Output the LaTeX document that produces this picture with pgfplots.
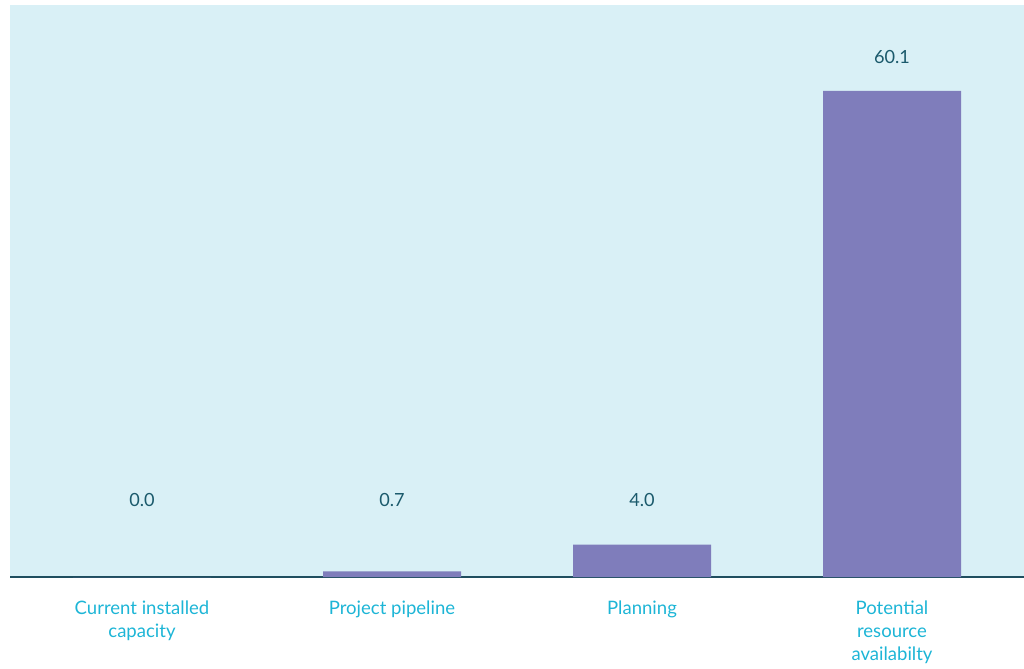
\documentclass[border=0pt]{standalone}
\usepackage{pgfplots}
\pgfplotsset{compat=1.18}
\usepackage{fontspec}
\setmainfont{Lato}
\definecolor{bgc}{HTML}{D9F0F6}
\definecolor{barc}{HTML}{7F7DBB}
\definecolor{axc}{HTML}{1F4E5F}
\definecolor{valc}{HTML}{1B5A6C}
\definecolor{labc}{HTML}{1DB5D6}
\begin{document}
\begin{tikzpicture}[x=0.75pt,y=0.75pt]
\useasboundingbox (-10,-91) rectangle (1014,577);
\begin{axis}[
  at={(0,0)}, anchor=south west,
  scale only axis, width=760.5pt, height=429pt,
  xmin=-0.528, xmax=3.528, ymin=0, ymax=70.73,
  axis x line=bottom, axis y line=none,
  axis line style={-, draw=axc, line width=0.9pt},
  axis background/.style={fill=bgc},
  xtick={0,1,2,3}, major tick length=0,
  xticklabels={{Current installed\\capacity},{Project pipeline},{Planning},{Potential\\resource\\availabilty}},
  xticklabel style={align=center, font=\fontsize{13.9pt}{17.25pt}\selectfont, text=labc, anchor=north, yshift=-14pt},
  ytick=\empty,
  clip=false,
]
\addplot[ybar, bar width=0.552, fill=barc, draw=none] coordinates {(0,0.0) (1,0.7) (2,4.0) (3,60.1)};
\addplot[draw=none, mark=none, nodes near coords, point meta=explicit symbolic,
  nodes near coords align={center},
  every node near coord/.append style={font=\fontsize{13.6pt}{15pt}\selectfont, text=valc, anchor=center}]
  coordinates {(0,9.52)[0.0] (1,9.52)[0.7] (2,9.52)[4.0] (3,64.3)[60.1]};
\end{axis}
\end{tikzpicture}
\end{document}
